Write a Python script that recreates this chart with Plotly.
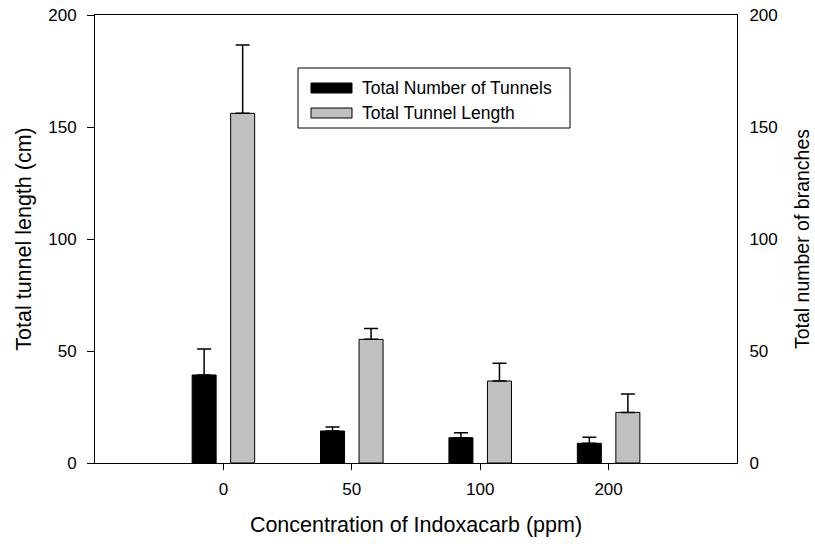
import plotly.graph_objects as go

categories = ["0", "50", "100", "200"]
tunnels_mean = [39.3, 14.3, 11.3, 8.8]
tunnels_err = [11.6, 1.8, 2.2, 2.7]
length_mean = [156.1, 55.2, 36.6, 22.6]
length_err = [30.5, 4.8, 7.9, 8.2]
y_ticks = [0, 50, 100, 150, 200]

FONT = "Liberation Sans, Arial, sans-serif"
BW = 0.187

fig = go.Figure()
fig.add_trace(go.Bar(
    x=categories, y=tunnels_mean, name="Total Number of Tunnels",
    yaxis="y2", width=BW, offset=-0.15 - BW / 2,
    marker=dict(color="#000000", line=dict(color="#000000", width=1)),
    error_y=dict(type="data", array=tunnels_err, arrayminus=[0] * 4, symmetric=False,
                 color="#000000", thickness=1.5, width=7),
    showlegend=False,
))
fig.add_trace(go.Bar(
    x=categories, y=length_mean, name="Total Tunnel Length",
    yaxis="y", width=BW, offset=0.15 - BW / 2,
    marker=dict(color="#c0c0c0", line=dict(color="#000000", width=1)),
    error_y=dict(type="data", array=length_err, arrayminus=[0] * 4, symmetric=False,
                 color="#000000", thickness=1.5, width=7),
    showlegend=False,
))

# legend box drawn manually
lx0, lx1, ly0, ly1 = 298, 570, 68, 128
W, H = 815, 544
ml, mr, mt, mb = 95, 78, 15, 81
pw, ph = W - ml - mr, H - mt - mb

def px(x):
    return (x - ml) / pw

def py(y):
    return 1 - (y - mt) / ph

shapes = [
    dict(type="rect", xref="paper", yref="paper", x0=px(lx0), x1=px(lx1), y0=py(ly1), y1=py(ly0),
         line=dict(color="#000000", width=1), fillcolor="white", layer="above"),
    dict(type="rect", xref="paper", yref="paper", x0=px(311), x1=px(352), y0=py(93), y1=py(83),
         line=dict(color="#000000", width=1), fillcolor="#000000", layer="above"),
    dict(type="rect", xref="paper", yref="paper", x0=px(311), x1=px(352), y0=py(118), y1=py(108),
         line=dict(color="#000000", width=1), fillcolor="#c0c0c0", layer="above"),
]
annotations = [
    dict(xref="paper", yref="paper", x=px(360), y=py(88), text="Total Number of Tunnels",
         showarrow=False, xanchor="left", yanchor="middle", font=dict(size=17.5, color="#000000", family=FONT)),
    dict(xref="paper", yref="paper", x=px(360), y=py(113), text="Total Tunnel Length",
         showarrow=False, xanchor="left", yanchor="middle", font=dict(size=17.5, color="#000000", family=FONT)),
]

fig.update_layout(
    width=W, height=H,
    margin=dict(l=ml, r=mr, t=mt, b=mb, autoexpand=False),
    paper_bgcolor="white", plot_bgcolor="white",
    font=dict(family=FONT, size=17, color="#000000"),
    barmode="overlay",
    shapes=shapes, annotations=annotations,
    xaxis=dict(type="category", range=[-1, 4], showgrid=False, zeroline=False, automargin=False,
               showline=True, linecolor="#000000", linewidth=1, mirror=True,
               ticks="outside", ticklen=6, tickcolor="#000000", ticklabelstandoff=5,
               tickfont=dict(size=17),
               title=dict(text="Concentration of Indoxacarb (ppm)", font=dict(size=21.5), standoff=18)),
    yaxis=dict(range=[0, 200], tickvals=y_ticks, showgrid=False, zeroline=False, automargin=False,
               showline=True, linecolor="#000000", linewidth=1,
               ticks="outside", ticklen=7, tickcolor="#000000", ticklabelstandoff=7,
               tickfont=dict(size=17),
               title=dict(text="Total tunnel length (cm)", font=dict(size=21.5), standoff=10)),
    yaxis2=dict(range=[0, 200], tickvals=y_ticks, overlaying="y", side="right", automargin=False,
                showgrid=False, zeroline=False,
                showline=True, linecolor="#000000", linewidth=1, ticks="", ticklabelstandoff=8,
                tickfont=dict(size=17),
                title=dict(text="Total number of branches", font=dict(size=19.5), standoff=18)),
)

fig.write_html("out.html")
